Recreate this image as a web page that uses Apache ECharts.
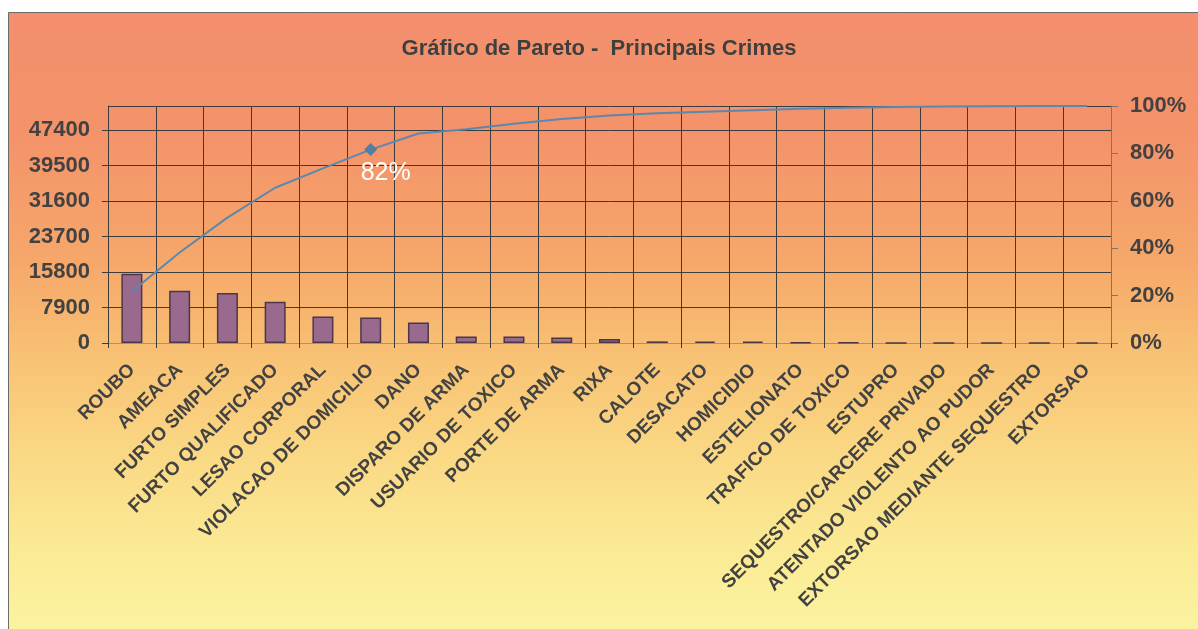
<!DOCTYPE html>
<html>
<head>
<meta charset="utf-8">
<script src="https://cdn.jsdelivr.net/npm/echarts@6/dist/echarts.min.js"></script>
<style>
html,body{margin:0;padding:0;background:#ffffff;}
#chart{width:1198px;height:629px;}
</style>
</head>
<body>
<div id="chart"></div>
<script>
const categories = ['ROUBO','AMEACA','FURTO SIMPLES','FURTO QUALIFICADO','LESAO CORPORAL','VIOLACAO DE DOMICILIO','DANO','DISPARO DE ARMA','USUARIO DE TOXICO','PORTE DE ARMA','RIXA','CALOTE','DESACATO','HOMICIDIO','ESTELIONATO','TRAFICO DE TOXICO','ESTUPRO','SEQUESTRO/CARCERE PRIVADO','ATENTADO VIOLENTO AO PUDOR','EXTORSAO MEDIANTE SEQUESTRO','EXTORSAO'];
const crimeCounts = [15420,11640,11130,9190,5920,5700,4580,1470,1450,1250,890,360,330,310,150,130,20,10,5,3,2];
const cumulativePct = [21.7,38.2,52.9,65.5,73.7,81.6,88.4,90.2,92.5,94.5,96.0,96.9,97.6,98.2,98.8,99.3,99.6,99.8,99.9,100,100];
const leftTicks = [0,7900,15800,23700,31600,39500,47400];
const rightTicks = [0,20,40,60,80,100];
const highlightIndex = 5;

const leftInterval = leftTicks[1] - leftTicks[0];
const chart = echarts.init(document.getElementById('chart'));
const FONT = 'Liberation Sans, Arial, sans-serif';
const GRID_COLOR = '#3c3c3c';

const lineData = cumulativePct.map((v, i) => {
  if (i !== highlightIndex) return v;
  return {
    value: v,
    symbol: 'diamond',
    symbolSize: 13,
    label: {
      show: true,
      position: 'bottom',
      distance: 5,
      offset: [15, 0],
      color: '#ffffff',
      fontSize: 25,
      fontFamily: FONT,
      formatter: p => Math.round(p.value) + '%'
    }
  };
});

const option = {
  backgroundColor: 'transparent',
  animation: false,
  graphic: [{
    type: 'rect',
    z: -100,
    silent: true,
    shape: {x: 8.5, y: 12.5, width: 1200, height: 630},
    style: {
      fill: new echarts.graphic.LinearGradient(0, 0, 0, 1, [
        {offset: 0, color: '#f38f6d'},
        {offset: 0.2, color: '#f4936a'},
        {offset: 0.4, color: '#f6a86a'},
        {offset: 0.55, color: '#f8c274'},
        {offset: 0.7, color: '#fad884'},
        {offset: 0.85, color: '#fbea94'},
        {offset: 1, color: '#fcf4a2'}
      ]),
      stroke: '#6b6b6b',
      lineWidth: 1
    }
  }],
  title: {
    text: 'Gráfico de Pareto -  Principais Crimes',
    left: 'center',
    top: 33,
    textStyle: {
      fontFamily: FONT,
      fontWeight: 'bold',
      fontSize: 22,
      color: '#3f3f3f'
    }
  },
  grid: {left: 108, right: 87, top: 106, bottom: 286, containLabel: false},
  xAxis: {
    type: 'category',
    data: categories,
    boundaryGap: true,
    axisLine: {show: true, lineStyle: {color: '#8898a6', width: 1}},
    axisTick: {show: true, length: 5, lineStyle: {color: GRID_COLOR}},
    splitLine: {show: true, lineStyle: {color: GRID_COLOR, width: 1}},
    axisLabel: {
      interval: 0,
      rotate: 45,
      margin: 24,
      color: '#424242',
      fontWeight: 'bold',
      fontSize: 19,
      fontFamily: FONT
    }
  },
  yAxis: [{
    type: 'value',
    min: leftTicks[0],
    max: 52800,
    interval: leftInterval,
    axisLine: {show: true, lineStyle: {color: GRID_COLOR}},
    axisTick: {show: true, length: 6, lineStyle: {color: GRID_COLOR}},
    splitLine: {show: true, lineStyle: {color: GRID_COLOR, width: 1}},
    axisLabel: {
      showMaxLabel: false,
      margin: 18,
      color: '#424242',
      fontWeight: 'bold',
      fontSize: 22,
      fontFamily: FONT,
      formatter: v => leftTicks.includes(v) ? String(v) : ''
    }
  }, {
    type: 'value',
    min: rightTicks[0],
    max: rightTicks[rightTicks.length - 1],
    interval: rightTicks[1] - rightTicks[0],
    position: 'right',
    axisLine: {show: true, lineStyle: {color: '#777777'}},
    axisTick: {show: true, length: 7, lineStyle: {color: '#777777'}},
    splitLine: {show: false},
    axisLabel: {
      margin: 19,
      color: '#424242',
      fontWeight: 'bold',
      fontSize: 22,
      fontFamily: FONT,
      formatter: v => v + '%'
    }
  }],
  series: [{
    type: 'bar',
    data: crimeCounts,
    yAxisIndex: 0,
    barWidth: 21,
    itemStyle: {color: '#9a6a8e', borderColor: '#4a3848', borderWidth: 1.5}
  }, {
    type: 'line',
    data: lineData,
    yAxisIndex: 1,
    symbol: 'none',
    showSymbol: true,
    z: 5,
    lineStyle: {color: '#5b88ae', width: 2},
    itemStyle: {color: '#4f7ea8'}
  }]
};
chart.setOption(option);
</script>
</body>
</html>
